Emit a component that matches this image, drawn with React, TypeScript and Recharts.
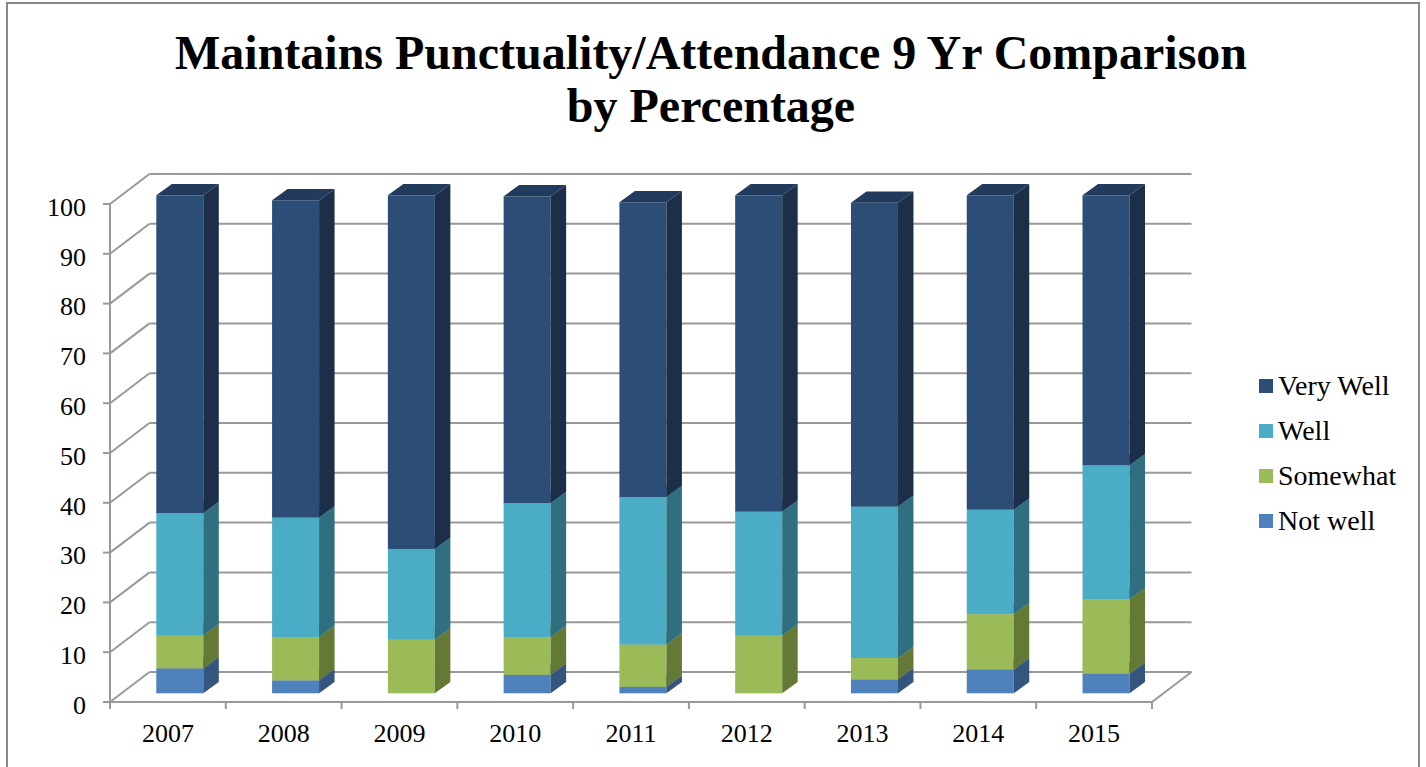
import React from "react";
import { BarChart, Bar, XAxis, YAxis, CartesianGrid } from "recharts";

// Survey results per year, in percent of responses
const years = ["2007", "2008", "2009", "2010", "2011", "2012", "2013", "2014", "2015"];
const notWell = [5.0, 2.6, 0, 3.7, 1.3, 0, 2.8, 4.8, 3.9];
const somewhat = [6.6, 8.7, 10.8, 7.6, 8.5, 11.6, 4.3, 11.1, 15.0];
const well = [24.6, 24.0, 18.2, 26.9, 29.6, 24.9, 30.4, 21.0, 26.9];
const veryWell = [63.8, 63.7, 71.0, 61.6, 59.2, 63.5, 61.0, 63.1, 54.2];
const yTicks = [0, 10, 20, 30, 40, 50, 60, 70, 80, 90, 100];

const titleLines = ["Maintains Punctuality/Attendance 9 Yr Comparison", "by Percentage"];

// stacked bottom to top
const series = [
  { key: "notWell", name: "Not well", values: notWell, front: "#4F81BD", side: "#34557E", top: "#3F6897" },
  { key: "somewhat", name: "Somewhat", values: somewhat, front: "#9BBB59", side: "#657937", top: "#7E9A47" },
  { key: "well", name: "Well", values: well, front: "#4BACC6", side: "#306F7F", top: "#3C8CA1" },
  { key: "veryWell", name: "Very Well", values: veryWell, front: "#2C4D75", side: "#1D2F48", top: "#223A5B" },
];

const data = years.map((year, i) => {
  const row: Record<string, string | number> = { year };
  series.forEach((s) => (row[s.key] = s.values[i]));
  return row;
});

const FONT = '"Liberation Serif", "Times New Roman", serif';
const GRID = "#999999";

const W = 1426;
const H = 767;
const Y_AXIS_W = 110;
const X_AXIS_H = 65;
const MARGIN = { top: 204, right: 274, bottom: 0, left: 0 };
const PLOT_BOTTOM = H - MARGIN.bottom - X_AXIS_H;
const PLOT_W = W - MARGIN.right - MARGIN.left - Y_AXIS_W;
const HALF_BAND = PLOT_W / years.length / 2;

// depth of the back wall and of each column
const WALL_DX = 39.5;
const WALL_DY = 30;
const BAR_SHIFT_X = 12.3;
const BAR_SHIFT_Y = -8.7;
const BAR_DX = 15.5;
const BAR_DY = 11.3;

const prism = (front: string, side: string, top: string) => (props: any) => {
  const { x, y, width, height } = props;
  if (!width || !height || height <= 0) return <g />;
  const fx = x + BAR_SHIFT_X;
  const fy = y + BAR_SHIFT_Y;
  const r = fx + width;
  const b = fy + height;
  return (
    <g>
      <rect x={fx} y={fy} width={width} height={height} fill={front} />
      <polygon
        points={`${r},${fy} ${r + BAR_DX},${fy - BAR_DY} ${r + BAR_DX},${b - BAR_DY} ${r},${b}`}
        fill={side}
      />
      <polygon
        points={`${fx},${fy} ${fx + BAR_DX},${fy - BAR_DY} ${r + BAR_DX},${fy - BAR_DY} ${r},${fy}`}
        fill={top}
      />
    </g>
  );
};

// side wall diagonal + back wall line for every y tick, plus the floor's right edge
const wallLine = (p: any) => {
  const { x1, y1, x2, index } = p;
  const floor = Math.abs(y1 - PLOT_BOTTOM) < 1;
  return (
    <g key={`wall-${index}-${y1}`}>
      <line x1={x1} y1={y1} x2={x1 + WALL_DX} y2={y1 - WALL_DY} stroke={GRID} strokeWidth={2} />
      <line x1={x1 + WALL_DX} y1={y1 - WALL_DY} x2={x2 + WALL_DX} y2={y1 - WALL_DY} stroke={GRID} strokeWidth={2} />
      {floor && <line x1={x2} y1={y1} x2={x2 + WALL_DX} y2={y1 - WALL_DY} stroke={GRID} strokeWidth={2} />}
    </g>
  );
};

const YearTick = (props: any) => {
  const { x, y, payload, index } = props;
  const last = index === years.length - 1;
  return (
    <g>
      <line x1={x - HALF_BAND} y1={y} x2={x - HALF_BAND} y2={y + 7} stroke={GRID} strokeWidth={2} />
      {last && <line x1={x + HALF_BAND} y1={y} x2={x + HALF_BAND} y2={y + 7} stroke={GRID} strokeWidth={2} />}
      <text x={x} y={y + 40} textAnchor="middle" fill="#000" fontSize={26} fontFamily={FONT}>
        {payload.value}
      </text>
    </g>
  );
};

export default function App() {
  return (
    <div
      style={{
        position: "absolute",
        left: 0,
        top: 0,
        width: W,
        height: H,
        overflow: "hidden",
        background: "#fff",
        fontFamily: FONT,
      }}
    >
      <div
        style={{
          position: "absolute",
          left: 6,
          top: 2,
          width: 1410,
          height: 820,
          border: "2px solid #8a8a8a",
        }}
      />
      <div
        style={{
          position: "absolute",
          left: 0,
          top: 26,
          width: W - 4,
          textAlign: "center",
          fontSize: 48,
          fontWeight: "bold",
          lineHeight: "53px",
          color: "#000",
        }}
      >
        {titleLines.map((t) => (
          <div key={t}>{t}</div>
        ))}
      </div>

      <div style={{ position: "absolute", left: 0, top: 0 }}>
        <BarChart width={W} height={H} data={data} margin={MARGIN} barSize={47}>
          <CartesianGrid vertical={false} horizontal={wallLine} />
          <XAxis
            dataKey="year"
            height={X_AXIS_H}
            interval={0}
            tickLine={false}
            tickSize={0}
            tickMargin={0}
            stroke={GRID}
            axisLine={{ stroke: GRID, strokeWidth: 2 }}
            tick={<YearTick />}
          />
          <YAxis
            width={Y_AXIS_W}
            domain={[0, 100]}
            ticks={yTicks}
            interval={0}
            tickSize={7}
            tickMargin={17}
            stroke={GRID}
            axisLine={{ stroke: GRID, strokeWidth: 2 }}
            tickLine={{ stroke: GRID, strokeWidth: 2 }}
            tick={{ fill: "#000", fontSize: 26, fontFamily: FONT, dy: 2.5 }}
          />
          {series.map((s) => (
            <Bar
              key={s.key}
              dataKey={s.key}
              name={s.name}
              stackId="total"
              fill={s.front}
              isAnimationActive={false}
              shape={prism(s.front, s.side, s.top)}
            />
          ))}
        </BarChart>
      </div>

      <div style={{ position: "absolute", left: 1259, top: 363.5, fontSize: 28, color: "#000" }}>
        {[...series].reverse().map((s) => (
          <div key={s.key} style={{ display: "flex", alignItems: "center", height: 45 }}>
            <span style={{ width: 14, height: 14, background: s.front, marginRight: 5 }} />
            <span>{s.name}</span>
          </div>
        ))}
      </div>
    </div>
  );
}
